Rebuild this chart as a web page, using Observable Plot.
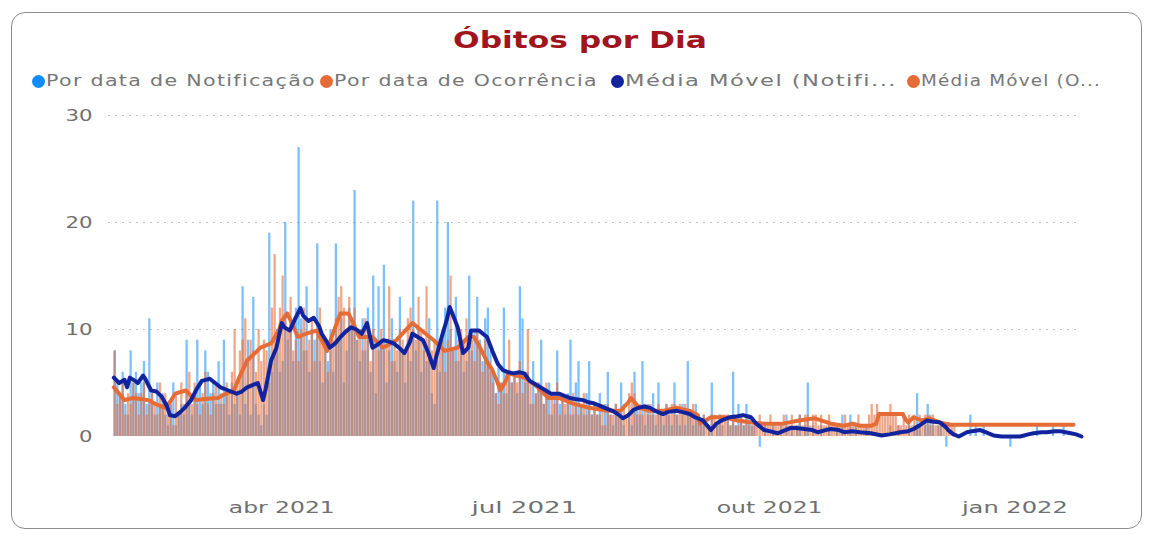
<!DOCTYPE html>
<html>
<head>
<meta charset="utf-8">
<script src="https://cdn.jsdelivr.net/npm/d3@7"></script>
<script src="https://cdn.jsdelivr.net/npm/@observablehq/plot@0.6"></script>
<style>
  html, body { margin: 0; padding: 0; background: #fff; width: 1151px; height: 534px; overflow: hidden; }
  body { position: relative; font-family: "DejaVu Sans", sans-serif; }
  #card { position: absolute; left: 11px; top: 12px; width: 1131px; height: 517px; box-sizing: border-box;
          border: 1.5px solid #8c8c8c; border-radius: 14px; background: #fff; }
  #title { position: absolute; top: 25px; left: 453px; white-space: nowrap; font-weight: bold; font-size: 23px;
           color: #a0141e; line-height: 30px; display: inline-block; }
  .dot { position: absolute; top: 75px; width: 13px; height: 13px; border-radius: 50%; }
  .lbl { position: absolute; top: 71px; line-height: 20px; font-size: 15.5px; color: #777; white-space: nowrap;
         letter-spacing: 1px; display: inline-block; }
  #chart { position: absolute; left: 0; top: 95px; }
</style>
</head>
<body>
<div id="card"></div>
<div id="title">Óbitos por Dia</div>
<div id="legend"></div>
<div id="chart"></div>
<script>
// ---------------- DATA ----------------
const startDay = "2021-01-28"; // first day of the series
const seriesNames = ["Por data de Notificação", "Por data de Ocorrência", "Média Móvel (Notifi...", "Média Móvel (O..."];
const seriesColors = ["#118DFF", "#E66C37", "#12239E", "#E66C37"];

// daily deaths by notification date (from 2021-01-28)
const notificacao = [
  8,5,4,6,3,2,8,5,6,4,  5,7,3,11,4,2,5,3,4,2,  1,3,5,1,2,3,2,9,3,2,  4,9,5,3,8,6,4,5,3,7,
  3,9,4,2,5,3,4,2,14,3,  9,2,13,3,2,1,3,2,19,6,  8,10,6,7,20,9,11,7,12,27,  11,8,14,6,10,9,18,7,5,9,
  7,10,6,18,9,11,5,8,12,10,  23,9,7,11,8,12,6,15,4,14,  9,16,5,8,11,7,6,13,8,5,  9,7,22,8,10,6,9,7,11,4,
  3,22,6,9,12,20,10,8,13,7,  9,6,7,15,8,10,13,9,7,11,  12,8,6,4,7,5,12,4,6,5,  6,4,14,11,5,6,3,7,4,5,
  9,3,4,5,2,4,8,3,4,2,  4,9,2,5,7,3,2,4,7,2,  3,2,4,1,3,6,2,1,3,2,  5,1,0,2,1,6,3,2,7,1,
  3,2,4,1,5,2,1,3,2,1,  5,2,1,3,1,7,2,1,3,2,  1,2,0,1,5,0,1,2,1,0,  2,1,6,1,3,2,1,3,2,1,
  1,0,-1,0,1,0,0,1,0,0,  1,0,2,0,1,0,1,2,0,1,  5,0,1,0,0,1,0,0,1,0,  0,1,0,2,0,0,2,0,1,0,
  0,0,1,0,0,0,0,0,0,0,  0,1,0,0,1,0,0,0,1,0,  1,4,1,0,1,3,2,1,0,1,  1,0,-1,0,0,0,0,0,0,0,
  0,2,0,1,0,0,1,0,0,0,  0,0,0,0,0,0,-1,0,0,0,  0,0,0,0,0,0,1,0,0,0,  0,0,1,0,0,0,1,0,0,0,
  0,0,0,0
];

// daily deaths by occurrence date (from 2021-01-28)
const ocorrencia = [
  8,3,4,5,2,4,3,5,4,2,  4,5,2,3,4,3,2,5,3,4,  2,3,1,4,2,5,3,4,6,3,  5,3,2,4,6,3,2,4,5,3,
  4,3,5,4,6,10,5,8,9,11,  7,9,8,6,10,7,9,8,5,12,  17,9,12,15,11,10,13,8,9,7,  10,12,8,9,11,7,10,12,9,8,
  6,8,9,11,13,14,12,10,13,11,  12,9,10,8,11,9,7,10,9,8,  10,8,9,14,7,9,8,10,9,8,  11,12,10,9,13,10,8,14,9,8,
  9,7,8,10,6,9,15,8,7,9,  10,9,11,8,9,7,10,8,6,9,  7,6,5,4,3,5,4,6,9,5,  6,5,7,4,6,10,5,3,4,5,
  4,3,5,2,4,3,5,2,4,3,  3,2,4,3,2,3,4,2,3,2,  3,2,2,3,1,3,2,2,3,2,  2,3,2,4,5,4,2,3,2,3,
  2,3,2,2,3,2,2,3,2,3,  3,2,3,2,3,2,2,3,2,2,  1,2,1,1,2,2,1,2,2,2,  2,1,2,1,1,2,1,2,1,1,
  1,1,2,1,1,1,2,1,1,1,  1,2,1,1,2,1,1,2,1,2,  2,1,2,2,1,2,1,1,2,1,  1,1,1,1,2,1,1,1,1,2,
  1,1,1,2,3,2,3,2,2,2,  2,3,2,2,1,1,2,1,2,1,  2,1,2,1,2,2,1,2,1,1,  1,1,1,1,1,1
];

// moving average (notification): [day offset from startDay, value]
const mediaMovelNotificacao = [
  [0,5.5],[2,5.0],[4,5.3],[5,4.6],[6,5.5],[8,5.2],[9,5.0],[11,5.7],[12,5.3],[14,4.3],[16,4.2],[18,3.7],
  [20,2.8],[21,2.0],[23,1.9],[25,2.3],[27,2.8],[29,3.4],[31,4.4],[33,5.2],[36,5.4],[38,5.0],[40,4.6],
  [43,4.3],[46,4.0],[48,4.2],[50,4.6],[52,4.8],[54,5.0],[56,3.4],[57,4.5],[59,7.1],[61,8.3],[63,10.6],
  [64,10.2],[66,9.9],[68,11.0],[70,12.0],[71,11.3],[73,10.8],[75,11.1],[77,10.3],[78,9.6],[80,8.8],
  [81,8.3],[83,8.7],[85,9.3],[87,9.8],[89,10.2],[91,10.0],[93,9.6],[95,10.6],[97,8.3],[99,8.6],[101,9.0],
  [103,8.9],[105,8.7],[107,8.3],[109,7.8],[111,8.8],[112,9.6],[114,9.3],[116,9.0],[118,7.8],[120,6.4],
  [121,7.5],[123,9.3],[125,11.0],[126,12.1],[127,11.5],[129,10.2],[131,7.8],[133,8.3],[134,9.9],[137,9.9],
  [140,9.3],[142,8.0],[144,6.8],[146,6.2],[148,6.0],[150,5.9],[152,6.0],[154,5.9],[156,5.2],[158,4.9],
  [160,4.6],[162,4.3],[164,4.0],[167,4.0],[169,3.8],[171,3.6],[173,3.5],[176,3.4],[178,3.2],[180,3.1],
  [182,2.9],[184,2.7],[187,2.4],[189,2.1],[191,1.7],[193,2.0],[195,2.5],[197,2.7],[199,2.8],[201,2.7],
  [203,2.4],[206,2.1],[208,2.3],[211,2.4],[213,2.3],[216,2.1],[218,1.8],[221,1.5],[223,0.9],[224,0.6],
  [226,1.2],[228,1.5],[231,1.8],[234,1.9],[236,2.0],[239,1.8],[241,1.2],[244,0.6],[246,0.5],[249,0.3],
  [251,0.5],[254,0.8],[256,0.8],[259,0.7],[262,0.6],[264,0.4],[267,0.6],[269,0.7],[272,0.6],[274,0.4],
  [277,0.5],[280,0.4],[284,0.3],[288,0.1],[291,0.2],[295,0.4],[298,0.5],[300,0.7],[302,1.0],[305,1.5],
  [307,1.4],[310,1.3],[312,0.9],[313,0.6],[315,0.2],[317,0.0],[320,0.4],[322,0.5],[325,0.6],[327,0.4],
  [330,0.1],[333,0.0],[335,0.0],[338,0.0],[340,0.0],[343,0.2],[345,0.3],[348,0.4],[350,0.4],[353,0.5],
  [355,0.5],[357,0.4],[359,0.3],[361,0.2],[363,0.0]
];

// moving average (occurrence): [day offset from startDay, value]
const mediaMovelOcorrencia = [
  [0,4.6],[2,4.0],[4,3.4],[7,3.6],[10,3.5],[13,3.4],[16,3.0],[19,2.7],[21,3.2],[23,4.0],[27,4.3],[29,3.8],
  [31,3.4],[34,3.5],[39,3.6],[42,4.0],[45,4.3],[47,5.5],[50,7.1],[53,7.8],[55,8.3],[59,8.7],[62,10.0],
  [63,10.8],[65,11.5],[67,10.5],[69,9.3],[72,9.6],[76,9.9],[78,9.0],[80,8.0],[82,9.5],[85,11.5],[88,11.5],
  [90,10.5],[92,9.3],[97,9.3],[99,8.8],[101,8.3],[106,9.0],[109,9.8],[112,10.6],[115,10.0],[117,9.6],
  [120,9.0],[124,8.0],[129,8.3],[133,9.3],[135,9.3],[137,8.5],[138,8.0],[140,7.0],[142,6.2],[144,5.0],
  [145,4.3],[147,5.2],[148,5.9],[151,5.7],[154,5.5],[157,5.0],[159,4.6],[163,3.6],[167,3.6],[172,3.1],
  [178,2.7],[183,2.5],[185,2.4],[190,2.4],[193,3.2],[194,3.6],[196,3.0],[197,2.7],[201,2.4],[206,2.4],
  [211,2.7],[216,2.4],[219,2.0],[220,1.2],[222,1.5],[224,1.8],[229,1.8],[234,1.5],[239,1.3],[244,1.2],
  [251,1.2],[257,1.5],[263,1.7],[269,1.2],[274,1.0],[277,1.2],[280,1.0],[284,1.0],[286,1.2],[287,2.1],
  [292,2.1],[296,2.1],[297,1.6],[298,1.3],[300,1.8],[303,1.5],[306,1.7],[310,1.3],[314,1.1],[320,1.1],
  [340,1.1],[360,1.1]
];

const xTickDates = ["2021-04-01", "2021-07-01", "2021-10-01", "2022-01-01"];
const xTickLabels = ["abr 2021", "jul 2021", "out 2021", "jan 2022"];
const yTicks = [0, 10, 20, 30];
const yGrid = [10, 20, 30];

// ---------------- BUILD ----------------
const start = new Date(startDay + "T00:00:00Z");
const day = i => d3.utcDay.offset(start, i);
const toBars = arr => arr.map((v, i) => ({d1: day(i), d2: day(i + 1), v}));
const toLine = arr => arr.map(([i, v]) => ({d: day(i), v}));
const xTicks = xTickDates.map(s => new Date(s + "T00:00:00Z"));

const chart = Plot.plot({
  width: 1151,
  height: 439,
  marginLeft: 108,
  marginRight: 70,
  marginTop: 20,
  marginBottom: 98,
  style: {background: "transparent", fontFamily: "DejaVu Sans, sans-serif", fontSize: "16px", color: "#6f6f6f", overflow: "visible"},
  x: {type: "utc", domain: [day(-2), day(363)], ticks: xTicks,
      tickFormat: d => xTickLabels[xTicks.findIndex(t => +t === +d)], tickSize: 0, tickPadding: 65, label: null},
  y: {domain: [0, 30], ticks: yTicks, tickSize: 0, tickPadding: 16, label: null},
  marks: [
    Plot.ruleY(yGrid, {stroke: "#c4c4c4", strokeDasharray: "2,5", strokeWidth: 1}),
    Plot.rect(toBars(notificacao), {x1: "d1", x2: "d2", y1: 0, y2: "v", fill: seriesColors[0], fillOpacity: 0.55, insetLeft: 0.2, insetRight: 0.2}),
    Plot.rect(toBars(ocorrencia), {x1: "d1", x2: "d2", y1: 0, y2: "v", fill: seriesColors[1], fillOpacity: 0.6, insetLeft: 0.2, insetRight: 0.2}),
    Plot.line(toLine(mediaMovelOcorrencia), {x: "d", y: "v", stroke: seriesColors[3], strokeWidth: 4, strokeLinejoin: "round", strokeLinecap: "round"}),
    Plot.line(toLine(mediaMovelNotificacao), {x: "d", y: "v", stroke: seriesColors[2], strokeWidth: 4, strokeLinejoin: "round", strokeLinecap: "round"})
  ]
});
document.getElementById("chart").appendChild(chart);

// horizontal stretch helper for HTML text (the original is rendered stretched)
function stretchTo(el, target) {
  const w = el.getBoundingClientRect().width;
  el.style.transformOrigin = "0 50%";
  el.style.transform = `scaleX(${target / w})`;
}

// legend
const legendLeft = [32, 320, 611, 907];
const legendWidths = [270, 264, 272, 180];
const legend = document.getElementById("legend");
seriesNames.forEach((name, k) => {
  const dot = document.createElement("span");
  dot.className = "dot";
  dot.style.left = legendLeft[k] + "px";
  dot.style.background = seriesColors[k];
  const lbl = document.createElement("span");
  lbl.className = "lbl";
  lbl.style.left = (legendLeft[k] + 14) + "px";
  lbl.textContent = name;
  legend.appendChild(dot);
  legend.appendChild(lbl);
  stretchTo(lbl, legendWidths[k]);
});

// title
stretchTo(document.getElementById("title"), 254);

// axis labels: stretch horizontally around their anchor
chart.querySelectorAll("text").forEach(t => {
  const s = t.textContent;
  const len = t.getComputedTextLength();
  const target = /^\d+$/.test(s) ? 13.5 * s.length : 106;
  const tr = t.getAttribute("transform");
  if (tr) t.setAttribute("transform", tr + ` scale(${target / len},1)`);
  else t.style.letterSpacing = ((target - len) / s.length) + "px";
});
</script>
</body>
</html>
